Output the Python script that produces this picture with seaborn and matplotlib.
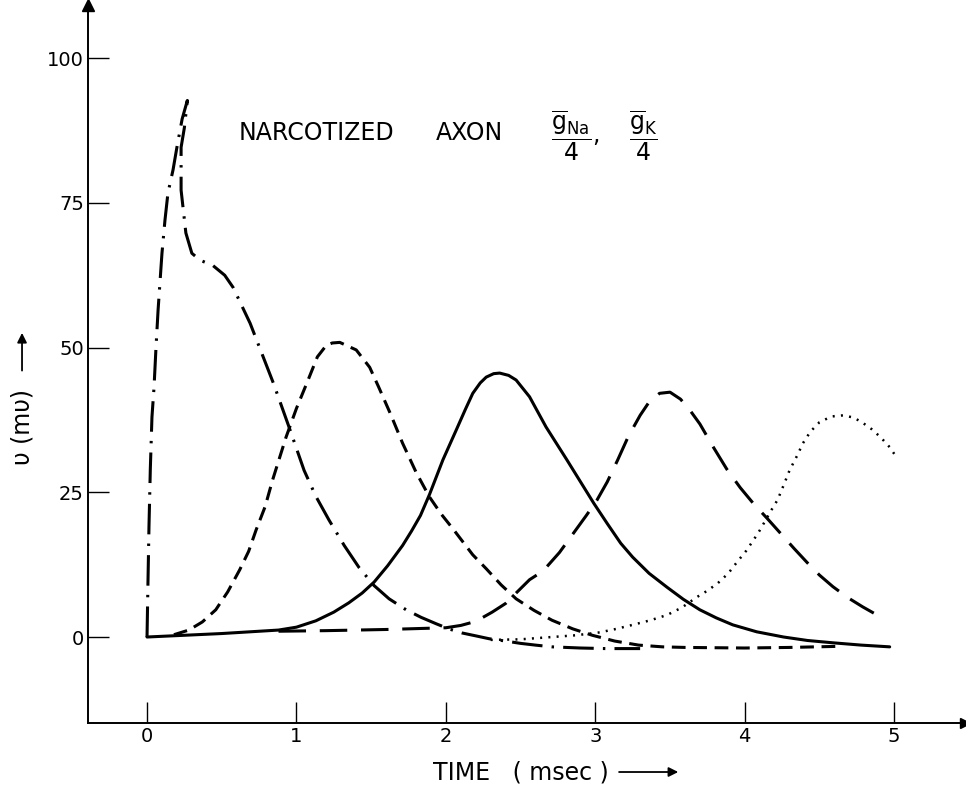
import matplotlib
matplotlib.use("Agg")
import matplotlib.pyplot as plt
import seaborn as sns

# first action potential (dash-dot)
t_ap1 = [0, 0.006, 0.013, 0.022, 0.033, 0.047, 0.06, 0.074, 0.1, 0.12, 0.14, 0.174,
         0.2, 0.235, 0.27, 0.25, 0.228, 0.228, 0.26, 0.3, 0.355, 0.44, 0.52, 0.576,
         0.69, 0.845, 0.95, 1.051, 1.13, 1.218, 1.32, 1.419, 1.519, 1.62, 1.734,
         1.834, 1.934, 2.02, 2.108, 2.2, 2.29, 2.4, 2.5, 2.6, 2.71, 2.9, 3.07, 3.3]
v_ap1 = [0, 9, 19, 29, 38, 43.2, 50, 56.5, 66.3, 72, 76.7, 80.7,
         84.6, 89.5, 92.7, 88, 84.6, 77.2, 69.8, 66.3, 65.1, 64.2, 62.5, 60.4,
         54.2, 43.9, 36.3, 28.8, 24.3, 20.2, 15.8, 12.0, 8.9, 6.6, 4.7,
         3.4, 2.3, 1.4, 0.7, 0.2, -0.3, -0.7, -1.1, -1.4, -1.7, -1.9, -2.0, -2.0]

# second (short dashes)
t_ap2 = [0.18, 0.28, 0.37, 0.46, 0.54, 0.62, 0.68, 0.73, 0.79, 0.84, 0.93, 1.0,
         1.07, 1.14, 1.2, 1.24, 1.29, 1.4, 1.49, 1.55, 1.63, 1.71, 1.8, 1.89, 1.97,
         2.05, 2.18, 2.27, 2.37, 2.47, 2.59, 2.71, 2.85, 2.98, 3.13, 3.29, 3.45,
         3.6, 4.0, 4.3, 4.65]
v_ap2 = [0.4, 1.2, 2.6, 4.7, 7.8, 11.6, 14.8, 18.5, 22.5, 27.1, 34.5, 39.5,
         43.9, 48.4, 50.4, 50.8, 50.9, 49.6, 46.6, 43.2, 38.5, 33.5, 28.5, 24.2, 21.2,
         18.6, 14.2, 11.8, 9.0, 6.6, 4.6, 2.9, 1.4, 0.3, -0.7, -1.4, -1.7,
         -1.8, -1.9, -1.8, -1.6]

# third (solid)
t_ap3 = [0, 0.5, 0.88, 1.0, 1.13, 1.25, 1.35, 1.44, 1.52, 1.61, 1.71, 1.77, 1.83,
         1.89, 1.98, 2.07, 2.13, 2.18, 2.23, 2.27, 2.32, 2.36, 2.42, 2.47, 2.56,
         2.67, 2.81, 2.99, 3.08, 3.17, 3.25, 3.36, 3.48, 3.59, 3.7, 3.81, 3.92,
         4.08, 4.26, 4.42, 4.59, 4.78, 4.97]
v_ap3 = [0, 0.6, 1.2, 1.7, 2.8, 4.3, 5.9, 7.6, 9.5, 12.3, 15.8, 18.3, 21.0,
         24.6, 30.6, 35.8, 39.3, 42.1, 43.9, 44.9, 45.5, 45.6, 45.2, 44.4, 41.5,
         36.3, 30.6, 23.1, 19.6, 16.2, 13.8, 11.0, 8.6, 6.5, 4.7, 3.3, 2.1,
         0.9, 0, -0.6, -1.0, -1.4, -1.7]

# fourth (long dashes)
t_ap4 = [0.88, 1.2, 1.6, 2.0, 2.1, 2.2, 2.31, 2.4, 2.47, 2.56, 2.65, 2.76, 2.85,
         2.94, 3.01, 3.08, 3.15, 3.22, 3.3, 3.36, 3.43, 3.5, 3.57, 3.63, 3.7, 3.79,
         3.88, 3.97, 4.06, 4.15, 4.24, 4.33, 4.42, 4.5, 4.59, 4.69, 4.79, 4.92]
v_ap4 = [1.0, 1.1, 1.3, 1.6, 2.0, 2.7, 4.3, 5.8, 7.6, 9.9, 11.4, 14.6, 17.8,
         21.0, 23.6, 26.8, 30.6, 34.6, 38.3, 40.6, 42.1, 42.3, 41.1, 39.3, 36.8, 32.8,
         29.0, 25.8, 23.0, 20.5, 17.9, 15.3, 12.8, 10.7, 8.7, 6.8, 5.2, 3.3]

# fifth (dotted)
t_ap5 = [2.3, 2.5, 2.71, 2.87, 3.03, 3.14, 3.25, 3.37, 3.48, 3.58, 3.68, 3.75,
         3.82, 3.89, 3.95, 4.01, 4.06, 4.1, 4.14, 4.18, 4.22, 4.26, 4.3, 4.35,
         4.39, 4.44, 4.5, 4.58, 4.66, 4.73, 4.79, 4.85, 4.91, 4.97, 5.02]
v_ap5 = [-0.5, -0.4, 0, 0.3, 0.8, 1.4, 2.1, 2.9, 3.8, 5.1, 6.9, 8.0,
         9.3, 11.0, 13.0, 14.9, 16.8, 18.4, 20.2, 22.0, 23.7, 26.2, 28.8, 31.3,
         33.5, 35.5, 37.1, 38.1, 38.3, 37.9, 37.0, 35.9, 34.5, 32.8, 30.9]

x_ticks = [0, 1, 2, 3, 4, 5]
y_ticks = [0, 25, 50, 75, 100]

sns.set_style("white")
plt.rcParams["font.family"] = ["DejaVu Sans"]
plt.rcParams["mathtext.fontset"] = "dejavusans"
plt.rcParams["text.color"] = "black"

fig = plt.figure(figsize=(9.66, 7.86), dpi=100)
ax = fig.add_axes([0.0911, 0.0802, 0.908, 0.9135])

sns.lineplot(x=t_ap1, y=v_ap1, sort=False, estimator=None, ax=ax, color="black",
             linewidth=2.2, linestyle=(0, (10, 3, 0.8, 3)))
sns.lineplot(x=t_ap2, y=v_ap2, sort=False, estimator=None, ax=ax, color="black",
             linewidth=2.2, linestyle=(0, (4.5, 2.5)))
sns.lineplot(x=t_ap3, y=v_ap3, sort=False, estimator=None, ax=ax, color="black",
             linewidth=2.2)
sns.lineplot(x=t_ap4, y=v_ap4, sort=False, estimator=None, ax=ax, color="black",
             linewidth=2.2, linestyle=(0, (9, 4.5)))
sns.lineplot(x=t_ap5, y=v_ap5, sort=False, estimator=None, ax=ax, color="black",
             linewidth=1.8, linestyle=(0, (0.8, 2.5)))

ax.set_xlim(-0.395, 5.475)
ax.set_ylim(-14.85, 109.2)
ax.set_xticks(x_ticks)
ax.set_yticks(y_ticks)
ax.tick_params(direction="in", length=15, width=1, labelsize=14, pad=3,
               colors="black", left=True, bottom=True)
sns.despine(ax=ax)
for s in ["left", "bottom"]:
    ax.spines[s].set_linewidth(1.4)
    ax.spines[s].set_color("black")

# arrow heads on the axes
ax.plot(0, 1, marker="^", color="black", markersize=8, transform=ax.transAxes, clip_on=False)
ax.plot(1, 0, marker=">", color="black", markersize=7, transform=ax.transAxes, clip_on=False)

# title inside the plot
ax.text(0.61, 87, "NARCOTIZED", fontsize=17, va="center", ha="left")
ax.text(1.93, 87, "AXON", fontsize=17, va="center", ha="left")
ax.text(2.84, 86.5, r"$\dfrac{\overline{\mathrm{g}}_{\mathrm{Na}}}{4}$", fontsize=17,
        va="center", ha="center")
ax.text(2.98, 85.5, ",", fontsize=17, va="baseline", ha="left")
ax.text(3.32, 86.5, r"$\dfrac{\overline{\mathrm{g}}_{\mathrm{K}}}{4}$", fontsize=17,
        va="center", ha="center")

# axis labels with their arrows
fig.text(0.0228, 0.457, "υ (mυ)", rotation=90, fontsize=17, ha="center", va="center")
fig.add_artist(matplotlib.patches.FancyArrowPatch(
    (0.0228, 0.525), (0.0228, 0.58), transform=fig.transFigure,
    arrowstyle="-|>", mutation_scale=14, color="black", linewidth=1.3))
fig.text(0.448, 0.0178, "TIME   ( msec )", fontsize=17, ha="left", va="center")
fig.add_artist(matplotlib.patches.FancyArrowPatch(
    (0.638, 0.0178), (0.705, 0.0178), transform=fig.transFigure,
    arrowstyle="-|>", mutation_scale=14, color="black", linewidth=1.3))

ax.set_xlabel("")
ax.set_ylabel("")
fig.savefig("out.png", dpi=100)
plt.close(fig)
